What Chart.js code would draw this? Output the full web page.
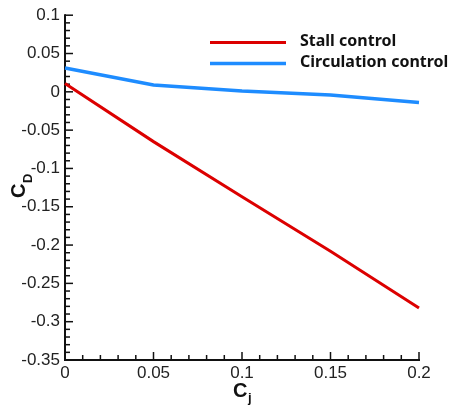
<!DOCTYPE html>
<html>
<head>
<meta charset="utf-8">
<script src="https://cdn.jsdelivr.net/npm/chart.js@4"></script>
<style>
html,body{margin:0;padding:0;background:#fff;}
#wrap{width:449px;height:410px;position:relative;}
</style>
</head>
<body>
<div id="wrap"><canvas id="c" width="449" height="410"></canvas></div>
<script>
// ---- data ----
const cj = [0, 0.05, 0.1, 0.15, 0.2];
const stallControl = [0.011, -0.065, -0.137, -0.208, -0.282];
const circulationControl = [0.031, 0.009, 0.001, -0.004, -0.014];
const seriesNames = ['Stall control', 'Circulation control'];
const xTickValues = [0, 0.05, 0.1, 0.15, 0.2];
const xTickLabels = ['0', '0.05', '0.1', '0.15', '0.2'];
const yTickValues = [-0.35, -0.3, -0.25, -0.2, -0.15, -0.1, -0.05, 0, 0.05, 0.1];
const yTickLabels = ['-0.35', '-0.3', '-0.25', '-0.2', '-0.15', '-0.1', '-0.05', '0', '0.05', '0.1'];
const xMinorStep = 0.01;
const yMinorStep = 0.01;

function labelFor(vals, labels, v) {
  for (let i = 0; i < vals.length; i++) if (Math.abs(vals[i] - v) < 1e-9) return labels[i];
  return '';
}

const axisPlugin = {
  id: 'axisDecor',
  beforeDatasetsDraw(chart) {
    const ctx = chart.ctx;
    const xs = chart.scales.x, ys = chart.scales.y;
    const ca = chart.chartArea;
    ctx.save();
    ctx.strokeStyle = '#111';
    ctx.lineWidth = 1.5;
    const nx = Math.round((xs.max - xs.min) / xMinorStep);
    for (let i = 0; i <= nx; i++) {
      const v = xs.min + i * xMinorStep;
      const major = xTickValues.some(t => Math.abs(t - v) < 1e-9);
      const px = xs.getPixelForValue(v);
      ctx.beginPath();
      ctx.moveTo(px, ca.bottom);
      ctx.lineTo(px, ca.bottom - (major ? 8 : 5));
      ctx.stroke();
    }
    const ny = Math.round((ys.max - ys.min) / yMinorStep);
    for (let i = 0; i <= ny; i++) {
      const v = ys.min + i * yMinorStep;
      const major = yTickValues.some(t => Math.abs(t - v) < 1e-9);
      const py = ys.getPixelForValue(v);
      ctx.beginPath();
      ctx.moveTo(ca.left, py);
      ctx.lineTo(ca.left + (major ? 8 : 5), py);
      ctx.stroke();
    }
    ctx.lineWidth = 2;
    ctx.beginPath();
    ctx.moveTo(ca.left, ys.getPixelForValue(ys.max) - 1);
    ctx.lineTo(ca.left, ca.bottom);
    ctx.lineTo(xs.getPixelForValue(xs.max) + 1, ca.bottom);
    ctx.stroke();
    ctx.restore();
  },
  afterDraw(chart) {
    const ctx = chart.ctx;
    ctx.save();
    ctx.fillStyle = '#111';
    ctx.textBaseline = 'alphabetic';
    ctx.textAlign = 'left';
    ctx.font = 'bold 20px "Liberation Sans", Arial, sans-serif';
    ctx.fillText('C', 233, 397);
    ctx.font = 'bold 13px "Liberation Sans", Arial, sans-serif';
    ctx.fillText('j', 248, 402);
    ctx.translate(25, 198);
    ctx.rotate(-Math.PI / 2);
    ctx.font = 'bold 20px "Liberation Sans", Arial, sans-serif';
    ctx.fillText('C', 0, 0);
    ctx.font = 'bold 13px "Liberation Sans", Arial, sans-serif';
    ctx.fillText('D', 15, 7);
    ctx.restore();
    ctx.save();
    const rows = [42.5, 63.5];
    chart.data.datasets.forEach((ds, i) => {
      ctx.strokeStyle = ds.borderColor;
      ctx.lineWidth = ds.borderWidth;
      ctx.beginPath();
      ctx.moveTo(210, rows[i]);
      ctx.lineTo(286, rows[i]);
      ctx.stroke();
      ctx.fillStyle = '#111';
      ctx.font = 'bold 16px "Noto Sans", "Open Sans", sans-serif';
      ctx.textBaseline = 'middle';
      ctx.fillText(ds.label, 300, rows[i] - 1);
    });
    ctx.restore();
  }
};

const ctx = document.getElementById('c').getContext('2d');
new Chart(ctx, {
  type: 'line',
  data: {
    datasets: [
      {
        label: seriesNames[0],
        data: cj.map((x, i) => ({ x, y: stallControl[i] })),
        borderColor: '#dc0000',
        borderWidth: 3,
        pointRadius: 0,
        tension: 0,
        clip: false
      },
      {
        label: seriesNames[1],
        data: cj.map((x, i) => ({ x, y: circulationControl[i] })),
        borderColor: '#1e8cff',
        borderWidth: 3.5,
        pointRadius: 0,
        tension: 0,
        clip: false
      }
    ]
  },
  options: {
    responsive: false,
    animation: false,
    devicePixelRatio: 1,
    layout: { padding: { left: 0, top: 15, right: 30, bottom: 0 } },
    plugins: { legend: { display: false }, tooltip: { enabled: false } },
    scales: {
      x: {
        type: 'linear',
        min: 0, max: 0.2,
        grid: { display: false, drawTicks: false },
        border: { display: false },
        afterBuildTicks(s) { s.ticks = xTickValues.map(v => ({ value: v })); },
        afterFit(s) { s.height = 50; },
        ticks: {
          padding: 3,
          maxRotation: 0,
          autoSkip: false,
          color: '#222',
          font: { family: '"Liberation Sans", Arial, sans-serif', size: 17 },
          callback: v => labelFor(xTickValues, xTickLabels, v)
        }
      },
      y: {
        type: 'linear',
        min: -0.35, max: 0.1,
        grid: { display: false, drawTicks: false },
        border: { display: false },
        afterBuildTicks(s) { s.ticks = yTickValues.map(v => ({ value: v })); },
        afterFit(s) { s.width = 65; },
        ticks: {
          padding: 5,
          autoSkip: false,
          color: '#222',
          font: { family: '"Liberation Sans", Arial, sans-serif', size: 17 },
          callback: v => labelFor(yTickValues, yTickLabels, v)
        }
      }
    }
  },
  plugins: [axisPlugin]
});
</script>
</body>
</html>
